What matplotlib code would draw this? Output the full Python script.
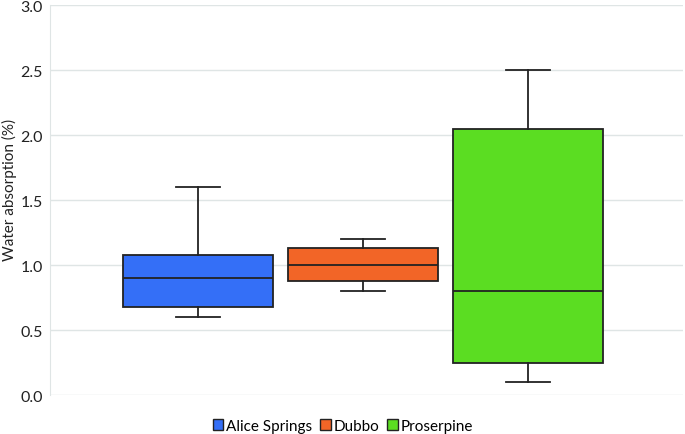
import matplotlib
matplotlib.use("Agg")
import matplotlib.pyplot as plt
from matplotlib.patches import Patch

categories = ["Alice Springs", "Dubbo", "Proserpine"]
whislo = [0.6, 0.8, 0.1]
q1 = [0.68, 0.88, 0.25]
med = [0.9, 1.0, 0.8]
q3 = [1.08, 1.13, 2.05]
whishi = [1.6, 1.2, 2.5]
colors = ["#346ff7", "#f26527", "#5bdd22"]
yticks = [0.0, 0.5, 1.0, 1.5, 2.0, 2.5, 3.0]

plt.rcParams['font.family'] = ['Lato', 'DejaVu Sans']

fig = plt.figure(figsize=(6.85, 4.35), dpi=100)
ax = fig.add_axes([50/685, 1-396.3/435, (683-50)/685, (396.3-6)/435])

stats = []
for i, c in enumerate(categories):
    stats.append(dict(label=c, whislo=whislo[i], q1=q1[i], med=med[i],
                      q3=q3[i], whishi=whishi[i], fliers=[]))

edge = "#222222"
bp = ax.bxp(stats, positions=range(len(categories)), widths=0.909,
            patch_artist=True, showfliers=False,
            boxprops=dict(edgecolor=edge, linewidth=1.3),
            medianprops=dict(color=edge, linewidth=1.3),
            whiskerprops=dict(color=edge, linewidth=1.3),
            capprops=dict(color=edge, linewidth=1.3),
            capwidths=0.267)
for patch, col in zip(bp['boxes'], colors):
    patch.set_facecolor(col)

ax.set_xlim(-0.894, 2.941)
ax.set_ylim(0, 3.0)
ax.set_yticks(yticks)
ax.set_yticklabels([f"{t:.1f}" for t in yticks], fontsize=11.5, color="#222222")
ax.set_xticks([])
ax.tick_params(axis='y', length=0, pad=5)
ax.yaxis.grid(True, color="#dfe5e5", linewidth=1.0)
ax.set_axisbelow(True)
for s in ["top", "right", "bottom"]:
    ax.spines[s].set_visible(False)
ax.spines["left"].set_color("#dfe5e5")
ax.set_ylabel("Water absorption (%)", fontsize=11, color="#222222")
ax.yaxis.set_label_coords((17-50)/633, (396.3-190)/390.3)

handles = [Patch(facecolor=c, edgecolor=edge, linewidth=1.0, label=l)
           for c, l in zip(colors, categories)]
fig.legend(handles=handles, loc="center", bbox_to_anchor=(343/685, 1-427/435),
           ncol=3, frameon=False, fontsize=11, handlelength=0.7, handleheight=0.7,
           handletextpad=0.2, columnspacing=0.5)

fig.savefig("out.png", dpi=100)
